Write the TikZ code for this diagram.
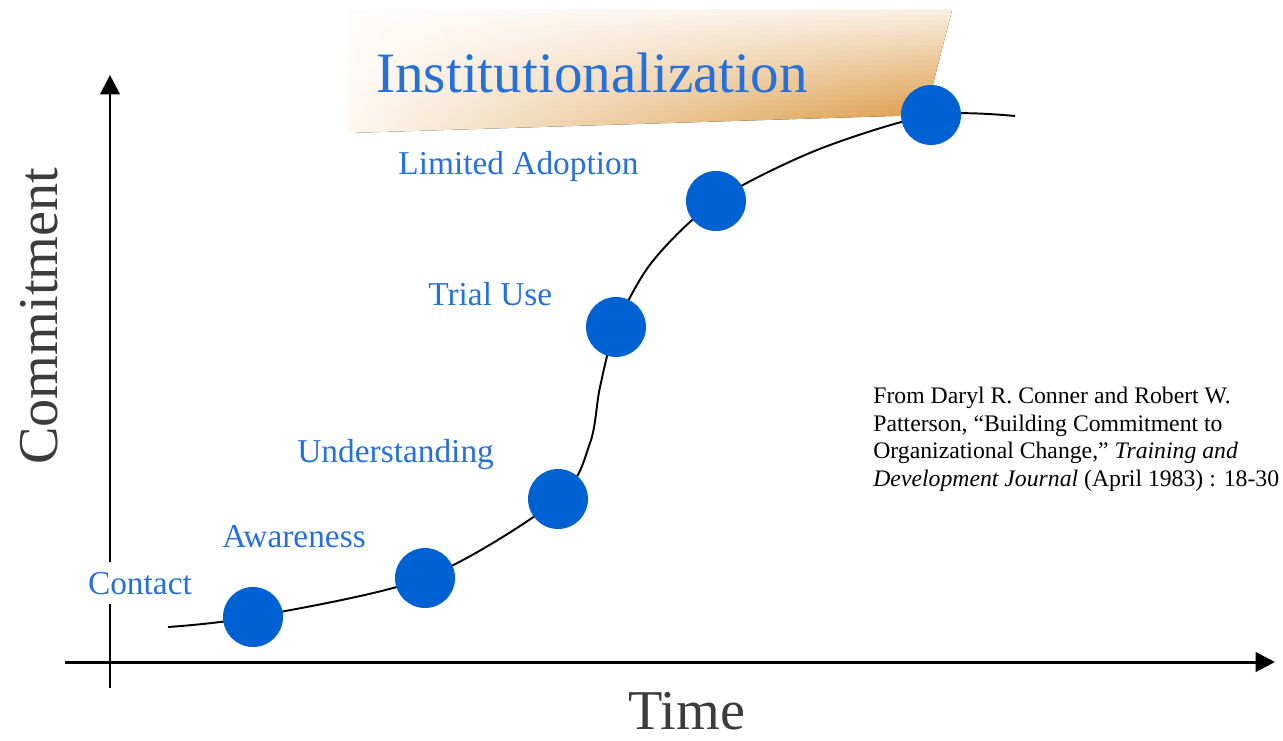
\documentclass[tikz,border=0pt]{standalone}
\usepackage{fontspec}
\setmainfont{Liberation Serif}
\usetikzlibrary{arrows.meta}

\definecolor{dotblue}{RGB}{0,98,210}
\definecolor{labelblue}{RGB}{38,112,220}
\definecolor{axisgray}{RGB}{60,60,60}
\definecolor{bannerorange}{RGB}{214,138,40}
\definecolor{bannerpeach}{RGB}{226,178,126}
\definecolor{bannercream}{RGB}{253,248,240}

\begin{document}
\begin{tikzpicture}[x=0.02cm, y=-0.02cm,
  stage/.style={circle, fill=dotblue, minimum size=1.2cm, inner sep=0pt},
  stagelabel/.style={anchor=base west, inner sep=0pt, text=labelblue, font=\fontsize{19}{22}\selectfont},
  axislabel/.style={anchor=base west, inner sep=0pt, text=axisgray, font=\fontsize{32}{36}\selectfont},
  axisline/.style={line width=1.7pt, -{Triangle[length=11pt,width=11pt]}}]

  % Fixed bounding box
  \path[use as bounding box] (0,0) rectangle (1283,740);

  % Shaded banner behind the last stage: orange to the right, washed out to the top
  \begin{scope}
    \clip (348,10) -- (952,10) -- (925,115) -- (348,133) -- cycle;
    \fill[left color=bannercream, middle color=bannerpeach, right color=bannerorange] (348,10) rectangle (952,133);
    \foreach \k in {0,...,24} {
      \pgfmathsetmacro{\op}{0.85*(1-\k/25)}
      \fill[white, fill opacity=\op] (340,{10+\k*5}) rectangle (960,{15+\k*5});
    }
  \end{scope}

  % Axes
  \coordinate (yfoot) at (110,688);
  \coordinate (ytip) at (110,75);
  \coordinate (xfoot) at (65,662);
  \coordinate (xtip) at (1275,662);
  \draw[axisline] (yfoot) -- (ytip);
  \draw[axisline] (xfoot) -- (xtip);

  % Points of the S-curve
  \coordinate (start) at (168,627);
  \coordinate (rise) at (590,443);
  \coordinate (steep) at (600,387);
  \coordinate (ease) at (652,262);
  \coordinate (level) at (817,150);
  \coordinate (finish) at (1015,116);
  \foreach \name/\x/\y in {contact/253/617, awareness/425/578, understanding/558/499,
                           trial/616/327, limited/716/201, institution/931/115}
    \coordinate (\name) at (\x,\y);

  % Curve first, dots on top
  \draw[line width=1.1pt] plot[smooth, tension=0.5] coordinates
    {(start) (contact) (awareness) (understanding) (rise) (steep) (trial)
     (ease) (limited) (level) (institution) (finish)};
  \foreach \name in {contact, awareness, understanding, trial, limited, institution}
    \node[stage] (\name-dot) at (\name) {};

  % Stage names
  \node[stagelabel, fill=white, inner sep=5.5pt] (contact-text) at (78,594) {Contact};
  \node[stagelabel] (awareness-text) at (222,547) {Awareness};
  \node[stagelabel] (understanding-text) at (297,462) {Understanding};
  \node[stagelabel] (trial-text) at (428,305) {Trial Use};
  \node[stagelabel] (limited-text) at (398,174) {Limited Adoption};
  \node[stagelabel, font=\fontsize{32.5}{36}\selectfont] (institution-text) at (376,92) {Institutionalization};

  % Axis names
  \node[axislabel, rotate=90] (commitment-text) at (57,465) {Commitment};
  \node[axislabel] (time-text) at (628,729) {Time};

  % Source note
  \node[anchor=north west, inner sep=0pt, align=left, font=\fontsize{13.5}{15.6}\selectfont] (source)
    at (873,387) {From Daryl R. Conner and Robert W.\\
                  Patterson, “Building Commitment to\\
                  Organizational Change,” \textit{Training and}\\
                  \textit{Development Journal} (April 1983) : 18-30};
\end{tikzpicture}
\end{document}
